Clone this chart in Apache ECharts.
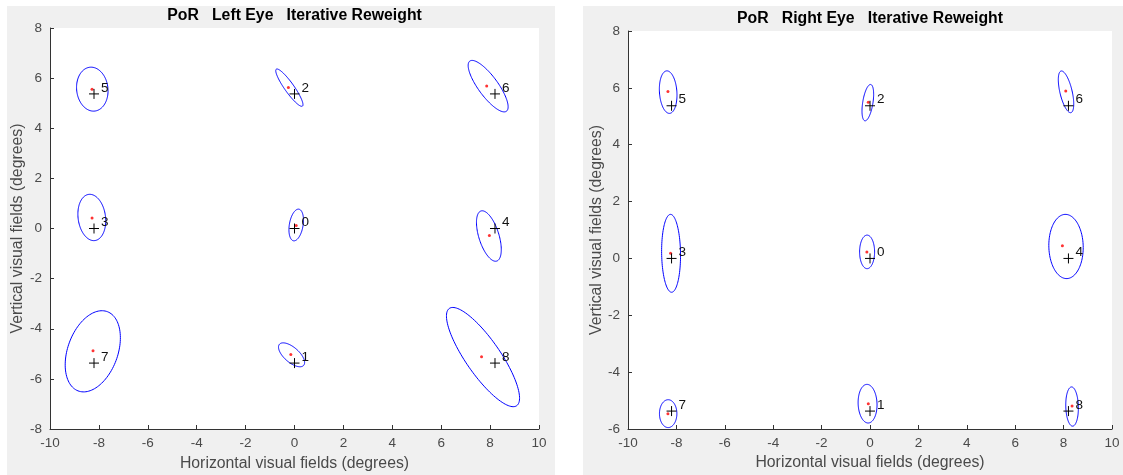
<!DOCTYPE html>
<html>
<head>
<meta charset="utf-8">
<title>PoR Iterative Reweight</title>
<script src="https://cdn.jsdelivr.net/npm/echarts@6.0.0/dist/echarts.min.js"></script>
<style>
  html, body { margin: 0; padding: 0; background: #ffffff; }
  #chart { width: 1123px; height: 475px; }
</style>
</head>
<body>
<div id="chart"></div>
<script>
// Calibration targets (degrees) and their index labels
const targetX = [0, 0, 0, -8.2, 8.2, -8.2, 8.2, -8.2, 8.2];
const targetY = [0, -5.37, 5.37, 0, 0, 5.37, 5.37, -5.37, -5.37];
const targetLabels = ['0', '1', '2', '3', '4', '5', '6', '7', '8'];

// Left eye: estimated point of regard per target
const leftPorX = [0.07, -0.15, -0.25, -8.28, 7.97, -8.28, 7.86, -8.24, 7.65];
const leftPorY = [0.12, -5.03, 5.63, 0.42, -0.28, 5.56, 5.69, -4.88, -5.12];
// Left eye: spread ellipses (centre x, centre y, semi-major, semi-minor, angle in degrees)
const leftEllCx = [0.07, -0.12, -0.21, -8.29, 7.95, -8.27, 7.92, -8.25, 7.71];
const leftEllCy = [0.14, -5.04, 5.62, 0.44, -0.30, 5.56, 5.68, -4.90, -5.13];
const leftEllA = [0.64, 0.65, 0.91, 0.93, 1.05, 0.88, 1.25, 1.69, 2.38];
const leftEllB = [0.28, 0.30, 0.19, 0.56, 0.41, 0.64, 0.40, 1.02, 0.70];
const leftEllAngle = [80, 140, 126, 98, 108, 97, 127, 69, 125.5];

// Right eye: estimated point of regard per target
const rightPorX = [-0.13, -0.07, -0.07, -8.24, 7.95, -8.35, 8.09, -8.35, 8.35];
const rightPorY = [0.23, -5.11, 5.49, 0.18, 0.45, 5.87, 5.89, -5.46, -5.19];
// Right eye: spread ellipses
const rightEllCx = [-0.12, -0.10, -0.09, -8.22, 8.10, -8.34, 8.10, -8.34, 8.35];
const rightEllCy = [0.23, -5.11, 5.48, 0.18, 0.42, 5.85, 5.86, -5.46, -5.21];
const rightEllA = [0.59, 0.68, 0.65, 1.37, 1.13, 0.75, 0.76, 0.49, 0.69];
const rightEllB = [0.31, 0.39, 0.21, 0.39, 0.71, 0.36, 0.25, 0.36, 0.26];
const rightEllAngle = [90, 93, 79, 91, 92, 95, 106, 90, 92];

// Axis ranges / ticks
const xTicks = { min: -10, max: 10, step: 2 };
const leftYTicks = { min: -8, max: 8, step: 2 };
const rightYTicks = { min: -6, max: 8, step: 2 };

const panelTitles = ['PoR   Left Eye   Iterative Reweight', 'PoR   Right Eye   Iterative Reweight'];
const xAxisName = 'Horizontal visual fields (degrees)';
const yAxisName = 'Vertical visual fields (degrees)';

const FONT = '"Liberation Sans", Arial, Helvetica, sans-serif';
const AXIS_COLOR = '#333333';
const LABEL_COLOR = '#4a4a4a';
const NAME_SIZE = 15.8;
const TICK_SIZE = 13.5;

function zip(...cols) {
  return cols[0].map((_, i) => cols.map(c => c[i]));
}

function ellipseItem(params, api) {
  const cx = api.value(0), cy = api.value(1);
  const a = api.value(2), b = api.value(3);
  const th = api.value(4) * Math.PI / 180;
  const pts = [];
  const n = 120;
  for (let k = 0; k <= n; k++) {
    const t = k / n * 2 * Math.PI;
    const x = cx + a * Math.cos(th) * Math.cos(t) - b * Math.sin(th) * Math.sin(t);
    const y = cy + a * Math.sin(th) * Math.cos(t) + b * Math.cos(th) * Math.sin(t);
    pts.push(api.coord([x, y]));
  }
  return {
    type: 'polyline',
    shape: { points: pts },
    style: { stroke: '#0000ff', lineWidth: 1, fill: null }
  };
}

function plusItem(params, api) {
  const p = api.coord([api.value(0), api.value(1)]);
  const s = 5;
  return {
    type: 'group',
    children: [
      { type: 'line', shape: { x1: p[0] - s, y1: p[1], x2: p[0] + s, y2: p[1] },
        style: { stroke: '#000000', lineWidth: 1 } },
      { type: 'line', shape: { x1: p[0], y1: p[1] - s, x2: p[0], y2: p[1] + s },
        style: { stroke: '#000000', lineWidth: 1 } },
      { type: 'text', x: p[0] + 7, y: p[1] - 6,
        style: { text: targetLabels[params.dataIndex], fill: '#111111', fontSize: 13.5,
                 fontFamily: FONT, verticalAlign: 'middle', align: 'left' } }
    ]
  };
}

function xAxisFor(gridIndex) {
  return {
    type: 'value', gridIndex,
    min: xTicks.min, max: xTicks.max, interval: xTicks.step,
    axisLine: { show: true, onZero: false, lineStyle: { color: AXIS_COLOR, width: 1 } },
    axisTick: { show: true, inside: true, length: 4, lineStyle: { color: AXIS_COLOR } },
    axisLabel: { color: LABEL_COLOR, fontSize: TICK_SIZE, fontFamily: FONT, margin: 7 },
    splitLine: { show: false }
  };
}
function yAxisFor(gridIndex, ticks) {
  return {
    type: 'value', gridIndex,
    min: ticks.min, max: ticks.max, interval: ticks.step,
    axisLine: { show: true, onZero: false, lineStyle: { color: AXIS_COLOR, width: 1 } },
    axisTick: { show: true, inside: true, length: 4, lineStyle: { color: AXIS_COLOR } },
    axisLabel: { color: LABEL_COLOR, fontSize: TICK_SIZE, fontFamily: FONT, margin: 8 },
    splitLine: { show: false }
  };
}

function panelSeries(idx, porX, porY, cx, cy, a, b, ang) {
  return [
    {
      type: 'custom', xAxisIndex: idx, yAxisIndex: idx,
      renderItem: ellipseItem,
      dimensions: ['cx', 'cy', 'a', 'b', 'angle'],
      encode: { x: 0, y: 1 },
      data: zip(cx, cy, a, b, ang),
      clip: true, silent: true, z: 2
    },
    {
      type: 'scatter', xAxisIndex: idx, yAxisIndex: idx,
      symbol: 'circle', symbolSize: 3,
      itemStyle: { color: '#ff0000' },
      data: zip(porX, porY), silent: true, z: 3
    },
    {
      type: 'custom', xAxisIndex: idx, yAxisIndex: idx,
      renderItem: plusItem,
      encode: { x: 0, y: 1 },
      data: zip(targetX, targetY), silent: true, z: 4
    }
  ];
}

const chart = echarts.init(document.getElementById('chart'), null, { renderer: 'canvas' });

const L = { left: 50, top: 28, width: 489, height: 401 };
const R = { left: 628, top: 31, width: 484, height: 398 };

chart.setOption({
  animation: false,
  backgroundColor: '#ffffff',
  grid: [
    Object.assign({ show: true, backgroundColor: '#ffffff', borderWidth: 0, containLabel: false }, L),
    Object.assign({ show: true, backgroundColor: '#ffffff', borderWidth: 0, containLabel: false }, R)
  ],
  xAxis: [xAxisFor(0), xAxisFor(1)],
  yAxis: [yAxisFor(0, leftYTicks), yAxisFor(1, rightYTicks)],
  graphic: [
    // figure backgrounds
    { type: 'rect', z: -10, silent: true, shape: { x: 7, y: 6, width: 548, height: 469 }, style: { fill: '#f0f0f0' } },
    { type: 'rect', z: -10, silent: true, shape: { x: 583, y: 6, width: 540, height: 469 }, style: { fill: '#f0f0f0' } },
    // titles
    { type: 'text', x: L.left + L.width / 2, y: 16, style: { text: panelTitles[0], fontSize: NAME_SIZE, fontWeight: 'bold',
      fontFamily: FONT, fill: '#000000', align: 'center', verticalAlign: 'middle' } },
    { type: 'text', x: R.left + R.width / 2, y: 19, style: { text: panelTitles[1], fontSize: NAME_SIZE, fontWeight: 'bold',
      fontFamily: FONT, fill: '#000000', align: 'center', verticalAlign: 'middle' } },
    // x axis names
    { type: 'text', x: L.left + L.width / 2, y: 464, style: { text: xAxisName, fontSize: NAME_SIZE,
      fontFamily: FONT, fill: LABEL_COLOR, align: 'center', verticalAlign: 'middle' } },
    { type: 'text', x: R.left + R.width / 2, y: 463, style: { text: xAxisName, fontSize: NAME_SIZE,
      fontFamily: FONT, fill: LABEL_COLOR, align: 'center', verticalAlign: 'middle' } },
    // y axis names
    { type: 'text', x: 18, y: L.top + L.height / 2, rotation: Math.PI / 2, style: { text: yAxisName, fontSize: NAME_SIZE,
      fontFamily: FONT, fill: LABEL_COLOR, align: 'center', verticalAlign: 'middle' } },
    { type: 'text', x: 597, y: R.top + R.height / 2, rotation: Math.PI / 2, style: { text: yAxisName, fontSize: NAME_SIZE,
      fontFamily: FONT, fill: LABEL_COLOR, align: 'center', verticalAlign: 'middle' } }
  ],
  series: [].concat(
    panelSeries(0, leftPorX, leftPorY, leftEllCx, leftEllCy, leftEllA, leftEllB, leftEllAngle),
    panelSeries(1, rightPorX, rightPorY, rightEllCx, rightEllCy, rightEllA, rightEllB, rightEllAngle)
  )
});
</script>
</body>
</html>
